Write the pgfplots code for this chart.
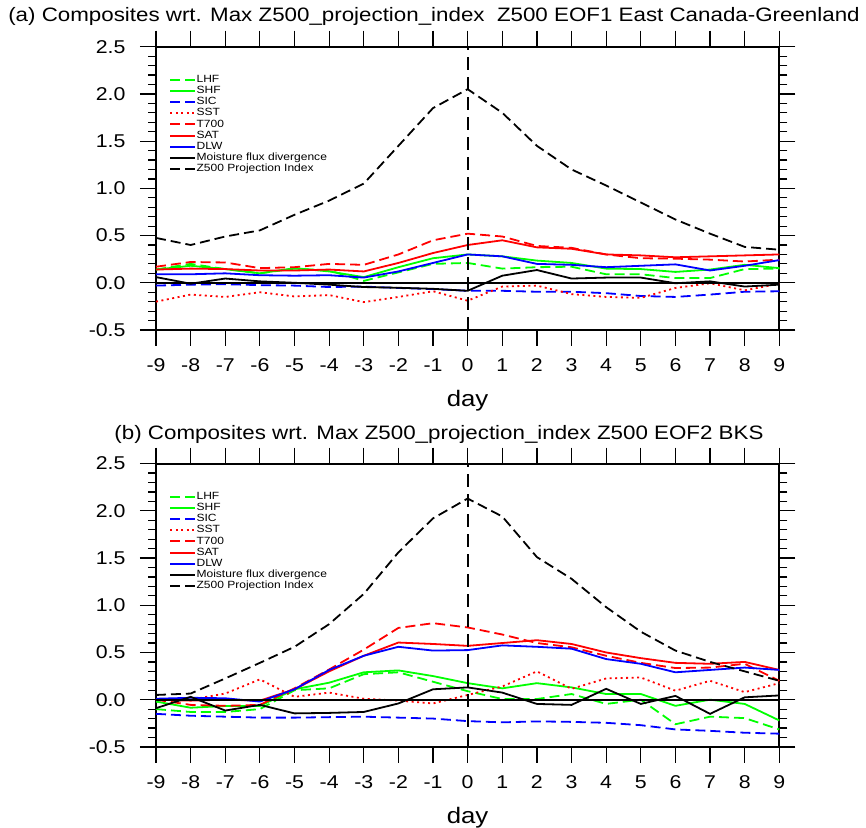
\documentclass[border=0pt]{standalone}
\usepackage{fontspec}
\setmainfont{Liberation Sans}
\newfontfamily\nclfont[FakeStretch=1.15]{Liberation Sans}
\usepackage{pgfplots}
\usepackage{pgfplotstable}
\pgfplotsset{compat=1.18}

% Composite anomalies (day relative to the Z500 projection-index maximum)
\pgfplotstableread{
day LHF SHF SIC SST T700 SAT DLW MFD Z500
-9 0.14 0.14 -0.03 -0.20 0.17 0.14 0.09 0.06 0.475
-8 0.20 0.18 -0.02 -0.125 0.22 0.15 0.09 -0.01 0.40
-7 0.145 0.145 -0.015 -0.15 0.215 0.145 0.10 0.045 0.49
-6 0.10 0.10 -0.025 -0.10 0.155 0.13 0.08 0.015 0.555
-5 0.15 0.155 -0.03 -0.145 0.165 0.13 0.075 0.0 0.72
-4 0.13 0.12 -0.045 -0.13 0.20 0.14 0.08 -0.02 0.87
-3 0.02 0.06 -0.04 -0.205 0.19 0.12 0.055 -0.045 1.05
-2 0.11 0.165 -0.055 -0.15 0.30 0.21 0.12 -0.053 1.45
-1 0.20 0.26 -0.067 -0.09 0.45 0.315 0.21 -0.064 1.85
0 0.21 0.30 -0.085 -0.19 0.52 0.40 0.30 -0.085 2.05
1 0.15 0.28 -0.085 -0.04 0.49 0.45 0.28 0.075 1.80
2 0.165 0.235 -0.095 -0.03 0.39 0.375 0.20 0.135 1.45
3 0.17 0.21 -0.095 -0.12 0.37 0.36 0.19 0.045 1.20
4 0.09 0.15 -0.11 -0.15 0.30 0.30 0.165 0.055 1.03
5 0.09 0.145 -0.14 -0.16 0.26 0.29 0.18 0.055 0.85
6 0.05 0.115 -0.15 -0.055 0.255 0.27 0.195 -0.005 0.67
7 0.05 0.14 -0.125 -0.005 0.245 0.28 0.13 0.015 0.52
8 0.145 0.19 -0.095 -0.08 0.225 0.29 0.18 -0.04 0.38
9 0.15 0.155 -0.09 -0.01 0.245 0.30 0.24 -0.02 0.35
}\dataA

\pgfplotstableread{
day LHF SHF SIC SST T700 SAT DLW MFD Z500
-9 -0.10 -0.02 -0.15 0.00 0.00 0.00 0.01 -0.09 0.05
-8 -0.13 -0.085 -0.17 0.00 -0.055 -0.01 0.02 0.03 0.065
-7 -0.13 -0.067 -0.18 0.065 -0.065 0.0 0.015 -0.115 0.225
-6 -0.10 -0.067 -0.19 0.215 -0.055 -0.01 -0.02 -0.055 0.39
-5 0.10 0.11 -0.19 0.03 0.12 0.11 0.11 -0.145 0.56
-4 0.12 0.18 -0.185 0.075 0.32 0.30 0.315 -0.14 0.80
-3 0.27 0.29 -0.18 0.01 0.53 0.465 0.465 -0.13 1.12
-2 0.29 0.31 -0.19 -0.01 0.76 0.605 0.56 -0.04 1.56
-1 0.19 0.25 -0.20 -0.04 0.81 0.59 0.52 0.11 1.92
0 0.09 0.175 -0.227 0.05 0.765 0.57 0.525 0.13 2.13
1 0.007 0.12 -0.24 0.14 0.69 0.60 0.575 0.075 1.94
2 0.007 0.175 -0.23 0.30 0.60 0.63 0.56 -0.045 1.51
3 0.06 0.13 -0.235 0.115 0.555 0.59 0.54 -0.055 1.28
4 -0.045 0.06 -0.245 0.225 0.465 0.50 0.43 0.115 0.98
5 0.0 0.06 -0.27 0.235 0.39 0.44 0.38 -0.045 0.72
6 -0.26 -0.065 -0.315 0.095 0.335 0.39 0.29 0.04 0.52
7 -0.18 0.0 -0.33 0.20 0.34 0.38 0.315 -0.15 0.40
8 -0.195 -0.045 -0.35 0.08 0.38 0.40 0.34 0.025 0.30
9 -0.315 -0.22 -0.36 0.175 0.20 0.315 0.315 0.045 0.20
}\dataB

\definecolor{ngreen}{RGB}{0,255,0}
\definecolor{nred}{RGB}{255,0,0}
\definecolor{nblue}{RGB}{0,0,255}

\pgfplotsset{
  compositeaxis/.style={
    scale only axis, width=623.3bp, height=283.3bp,
    xmin=-9, xmax=9, ymin=-0.5, ymax=2.5,
    xtick={-9,...,9}, ytick={-0.5,0,0.5,1,1.5,2,2.5},
    minor y tick num=4,
    tick align=outside, tick pos=both,
    major tick length=16bp, minor tick length=8bp,
    every tick/.style={black, line width=1.2bp},
    axis line style={line width=2bp},
    /pgf/number format/assume math mode=true,
    ticklabel style={font=\nclfont\fontsize{18.6}{20}\selectfont},
    xticklabel style={yshift=-9bp},
    yticklabel style={xshift=-11bp, /pgf/number format/.cd, fixed, fixed zerofill, precision=1},
    clip=false,
    every axis plot/.append style={line width=1.8bp},
    legend cell align=left,
    legend style={at={(0.021,0.904)}, anchor=north west, draw=none, fill=none,
      font=\nclfont\fontsize{10.5}{11}\selectfont, inner sep=0pt, row sep=0pt,
      nodes={inner sep=0.3bp, text height=8bp, text depth=2.6bp}},
    legend image code/.code={\draw[##1, line width=2bp] (0bp,0bp) -- (25bp,0bp);},
  },
  dashA/.style={dash pattern=on 10bp off 5bp},
  dotA/.style={dash pattern=on 2bp off 3.5bp},
}

\newcommand{\compositeplots}[1]{%
  \addplot[ngreen, dashA] table[x=day, y=LHF] {#1};
  \addlegendentry{LHF}
  \addplot[ngreen] table[x=day, y=SHF] {#1};
  \addlegendentry{SHF}
  \addplot[nblue, dashA] table[x=day, y=SIC] {#1};
  \addlegendentry{SIC}
  \addplot[nred, dotA] table[x=day, y=SST] {#1};
  \addlegendentry{SST}
  \addplot[nred, dashA] table[x=day, y=T700] {#1};
  \addlegendentry{T700}
  \addplot[nred] table[x=day, y=SAT] {#1};
  \addlegendentry{SAT}
  \addplot[nblue] table[x=day, y=DLW] {#1};
  \addlegendentry{DLW}
  \addplot[black] table[x=day, y=MFD] {#1};
  \addlegendentry{Moisture flux divergence}
  \addplot[black, dashA] table[x=day, y=Z500] {#1};
  \addlegendentry{Z500 Projection Index}
  % reference lines
  \addplot[black, line width=1.8bp, forget plot] coordinates {(-9,0) (9,0)};
  \addplot[black, line width=1.8bp, dash pattern=on 13bp off 7bp, forget plot] coordinates {(0,-0.5) (0,2.5)};
}

\begin{document}
\begin{tikzpicture}
\path[use as bounding box] (0,0) rectangle (866bp,828bp);

\begin{axis}[compositeaxis, at={(156bp,498bp)}, anchor=south west]
\compositeplots{\dataA}
\end{axis}

\begin{axis}[compositeaxis, at={(156bp,81.1bp)}, anchor=south west]
\compositeplots{\dataB}
\end{axis}

\node[anchor=base, font=\nclfont\fontsize{19.5}{22}\selectfont] at (434bp,806bp)
  {(a) Composites wrt. Max Z500\_projection\_index\ \ Z500 EOF1 East Canada-Greenland};
\node[anchor=base, font=\nclfont\fontsize{19.5}{22}\selectfont] at (439bp,388bp)
  {(b) Composites wrt. Max Z500\_projection\_index Z500 EOF2 BKS};
\node[anchor=base, font=\nclfont\fontsize{22.5}{24}\selectfont] at (467.6bp,421bp) {day};
\node[anchor=base, font=\nclfont\fontsize{22.5}{24}\selectfont] at (467.6bp,5bp) {day};
\end{tikzpicture}
\end{document}
